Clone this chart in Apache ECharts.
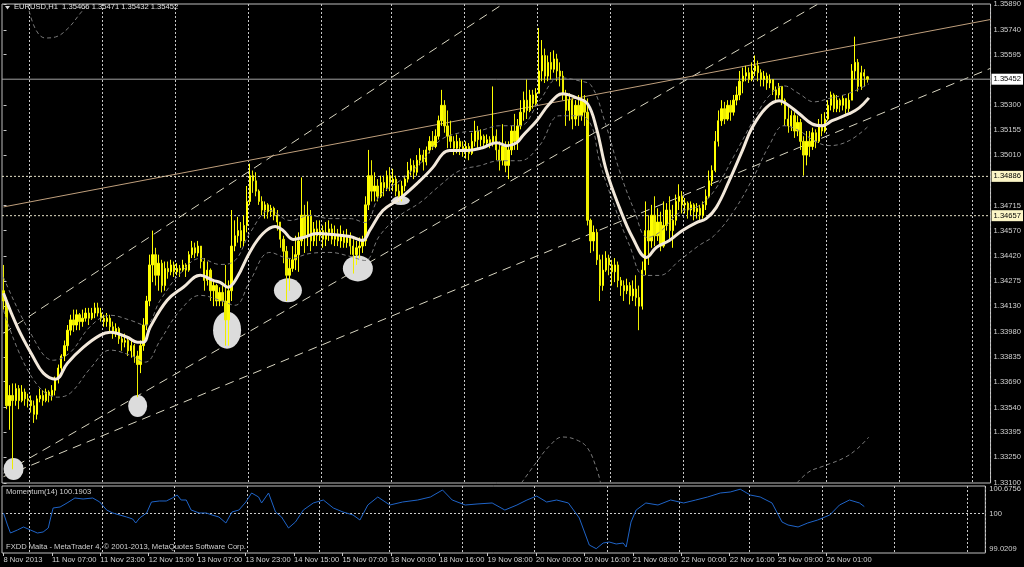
<!DOCTYPE html>
<html><head><meta charset="utf-8">
<script src="https://cdn.jsdelivr.net/npm/echarts@6/dist/echarts.min.js"></script>
<style>html,body{margin:0;padding:0;background:#000}#c{width:1024px;height:567px}</style>
</head><body><div id="c"></div>
<script>
// ---- time axis: trading sessions (day label, first hour, last hour) ----
const sessions = [['8 Nov',14,22],['11 Nov',0,23],['12 Nov',0,23],['13 Nov',0,23],['14 Nov',0,23],['15 Nov',0,22],
  ['18 Nov',0,23],['19 Nov',0,23],['20 Nov',0,23],['21 Nov',0,23],['22 Nov',0,22],['25 Nov',0,23],['26 Nov',0,23],['27 Nov',0,23],['28 Nov',0,5]];
const firstLabel = '8 Nov 2013';

// ---- EURUSD H1 candles, values in pips above 1.3000: [open, close, low, high] ----
const candlesPips = [
[422,416,411,437],[416,355,353,418],[355,361,341,367],[361,358,318,368],[358,365,355,368],[365,358,353,367],[358,363,357,367],[363,359,355,365],[359,358,354,362],
[358,355,351,361],[355,350,345,358],[350,359,347,361],[359,361,357,365],[361,358,355,364],[358,363,357,365],[363,361,357,364],[361,364,358,367],[364,371,361,372],[371,377,368,379],
[377,384,375,385],[384,390,381,393],[390,399,387,402],[399,405,396,408],[405,402,398,411],[402,408,399,411],[408,404,399,409],[404,406,401,411],[406,409,404,412],[409,406,402,412],
[406,409,405,412],[409,412,406,415],[412,409,407,415],[409,406,404,412],[406,404,401,408],[404,406,401,409],[406,401,398,408],[401,398,394,404],[398,400,395,403],[400,394,391,401],
[394,392,387,396],[392,393,389,397],[393,387,384,394],[387,390,383,393],[390,384,380,391],[384,379,360,387],[379,390,374,393],[390,402,387,406],[402,416,399,419],[416,437,413,443],
[437,443,427,457],[443,431,425,447],[431,438,422,443],[438,425,421,440],[425,435,422,439],[435,433,429,439],[433,437,431,440],[437,433,430,439],[433,435,431,438],[435,434,430,437],
[434,437,433,440],[437,434,430,438],[434,443,433,445],[443,447,441,451],[447,444,441,450],[444,448,442,451],[448,439,435,448],[439,428,422,441],[428,434,425,439],[434,422,416,435],
[422,425,413,428],[425,416,413,426],[416,421,413,424],[421,416,413,425],[416,405,390,437],[405,422,390,428],[422,448,416,469],[448,454,445,463],[454,457,450,465],[457,451,447,462],
[451,460,448,466],[460,474,456,483],[474,489,472,496],[489,486,479,492],[486,480,477,491],[480,474,472,481],[474,469,466,477],[469,472,464,474],[472,468,464,473],[468,470,465,472],
[470,466,463,471],[466,462,457,469],[462,452,447,462],[452,445,438,454],[445,431,416,448],[431,435,422,441],[435,440,433,448],[440,443,434,454],[443,451,433,456],[451,466,448,488],
[466,454,444,472],[454,466,448,474],[466,451,445,469],[451,458,448,462],[458,454,448,463],[454,457,451,463],[457,452,447,460],[452,456,448,462],[456,458,451,463],[458,452,449,461],
[452,455,448,460],[455,451,448,458],[451,454,447,460],[454,450,447,457],[450,453,447,458],[453,448,443,456],[448,443,432,452],[443,447,437,451],[447,448,441,453],[448,451,444,454],
[451,472,448,477],[472,489,469,504],[489,480,474,498],[480,483,474,491],[483,477,474,487],[477,485,476,489],[485,482,477,489],[482,489,480,492],[489,485,480,494],[485,487,480,493],
[487,480,477,489],[480,477,474,484],[477,483,474,486],[483,487,480,489],[487,492,485,497],[492,495,489,499],[495,491,487,498],[491,498,489,501],[498,501,495,505],[501,497,492,504],
[497,504,495,506],[504,509,502,512],[509,506,504,515],[506,512,505,516],[512,521,510,524],[521,530,518,539],[530,518,514,533],[518,512,505,527],[512,509,505,521],[509,505,501,512],
[505,509,502,513],[509,506,501,511],[506,504,500,509],[504,506,499,509],[506,502,498,508],[502,509,501,514],[509,515,506,521],[515,510,505,518],[510,512,506,516],[512,508,505,513],
[508,510,506,513],[510,508,505,512],[508,512,506,541],[512,504,498,516],[504,498,492,509],[498,506,495,519],[506,495,491,509],[495,504,487,509],[504,515,501,518],[515,509,504,525],
[509,518,504,522],[518,526,516,533],[526,533,521,538],[533,527,522,545],[527,536,526,539],[536,531,528,539],[531,537,530,540],[537,550,537,575],[550,559,544,568],[559,547,543,563],
[547,555,544,559],[555,551,545,561],[551,557,549,562],[557,550,544,560],[550,547,541,555],[547,536,533,550],[536,527,518,539],[527,533,521,537],[533,522,516,534],[522,530,518,533],
[530,524,518,536],[524,533,521,545],[533,526,518,536],[526,463,460,534],[463,451,444,464],[451,456,445,460],[456,440,437,458],[440,425,416,443],[425,434,422,443],[434,441,433,445],
[441,437,431,443],[437,433,425,440],[433,437,427,441],[437,428,424,439],[428,425,419,430],[425,422,416,428],[422,425,420,429],[425,419,414,427],[419,423,416,428],[423,418,413,431],
[418,413,399,425],[413,434,411,439],[434,457,431,474],[457,451,437,466],[451,466,447,472],[466,454,448,477],[454,462,451,470],[462,448,445,468],[448,460,447,474],[460,469,457,473],
[469,457,451,477],[457,463,447,472],[463,474,460,478],[474,477,469,484],[477,472,467,480],[472,473,467,476],[473,469,464,474],[469,472,466,474],[472,468,463,473],[468,470,464,473],
[470,466,463,472],[466,472,464,474],[472,477,469,481],[477,486,476,492],[486,492,483,495],[492,509,491,515],[509,521,506,527],[521,528,518,533],[528,522,519,532],[522,530,521,533],
[530,526,521,533],[526,533,524,536],[533,536,530,541],[536,544,533,550],[544,547,537,552],[547,549,544,553],[549,545,543,552],[545,550,544,555],[550,553,547,559],[553,549,544,556],
[549,545,541,551],[545,547,541,550],[547,543,539,549],[543,545,540,548],[545,539,536,545],[539,536,533,541],[536,541,534,543],[541,533,530,541],[533,522,518,534],[522,518,514,530],
[518,524,515,527],[524,515,511,526],[515,520,512,524],[520,509,504,522],[509,501,489,512],[501,509,495,515],[509,506,500,515],[506,514,504,517],[514,509,505,516],[509,518,508,522],
[518,515,512,525],[515,522,514,526],[522,530,521,533],[530,536,527,538],[536,528,526,537],[528,533,526,536],[533,530,526,534],[530,534,527,536],[534,528,525,534],[528,533,526,537],
[533,550,533,554],[550,555,545,570],[555,541,538,557],[541,549,539,553],[549,547,541,551],[546.6,545.2,543.2,547.1]
];

// ---- moving average and its bands, read as [bar index, pips] ----
const maPoints = [[0,420.5],[4.6,400.7],[9.8,383.3],[13.1,374],[17.1,370.5],[21,379.8],[26.3,389.1],[31.8,396.1],[35.1,397.8],[40.7,394.9],[44,392],[46,392],[48.2,400.7],[53.8,416.4],
[59.1,424],[64.7,431],[68.9,428],[71.2,426.9],[73.8,424],[76.8,429.8],[81.1,444.9],[85.3,455.3],[89.3,459.4],[91.9,457.1],[95.2,451.9],[98.5,453],[103,455.3],[108.3,454.7],[113.9,453.6],
[118.1,451.3],[120.4,457.1],[124.7,468.7],[130.3,475.7],[135.9,484.4],[141.1,493.7],[144.4,501.8],[146.7,503.6],[152.3,503.6],[157.5,505.3],[162.1,508.2],[165.4,506.5],[168.7,508.2],
[170.7,512.3],[175.3,521],[179.5,530.9],[183.8,536.7],[188.4,534.3],[192,530.9],[194.9,516.9],[198.2,491.9],[202.5,470.4],[206.8,453],[211.4,441.4],[214.6,447.2],[218.9,451.3],
[223.2,457.1],[227.8,461.7],[231,464],[234.3,470.4],[238.6,486.1],[242.9,503.6],[246.1,516.9],[250.7,528.5],[255,532.6],[257.3,530.9],[261.6,525.1],[265.8,519.2],[269.1,518.1],
[272.4,521],[278,525.1],[281.3,528.5],[284.5,534.3]];
const upperBand = [[0,429.8],[8.9,397.2],[16.4,381.5],[22,386.2],[28.6,401.3],[35.1,407.7],[41.7,404.8],[46.6,401.9],[51.5,416.4],[58.1,432.1],[64.7,440.8],[71.2,437.3],[76.1,439.6],
[81.1,455.9],[87.6,468.7],[94.2,462.9],[100.8,465.8],[107.3,464],[113.9,464],[118.8,461.7],[123.7,477.4],[130.3,486.1],[136.9,496],[143.4,509.4],[150,514],[156.5,515.2],[163.1,518.1],
[169.7,518.1],[176.2,532.6],[182.8,546],[189.4,544.2],[193.3,541.3],[197.6,521],[202.5,491.9],[207.4,468.7],[211.7,453],[215.6,455.9],[222.2,467.5],[228.7,471.6],[233.7,480.3],
[240.2,500.6],[246.8,522.1],[251.7,535.5],[256.6,541.3],[261.6,536.7],[266.5,532],[271.4,534],[278,537],[284.5,542.5]];
const lowerBand = [[0,410.6],[8.9,372.8],[17.7,360],[22,362.4],[28.6,376.9],[35.1,387.4],[41.7,384.4],[46.6,380.4],[51.5,393.1],[58.1,410.6],[64.7,419.3],[71.2,416.4],[76.1,413.5],
[81.1,428],[87.6,444.3],[94.2,440.8],[100.8,443.7],[107.3,444.3],[113.9,442],[118.8,439.6],[123.7,454.2],[130.3,465.8],[136.9,473.3],[143.4,483.2],[150,492],[156.5,494.8],[163.1,497.7],
[169.7,497.7],[176.2,506.5],[182.8,523.9],[189.4,523.9],[193.3,518.1],[195.9,497.7],[200.8,471.6],[205.8,448.4],[210.7,430.9],[215.6,430.9],[222.2,439.6],[228.7,448.4],[233.7,454.2],
[240.2,468.7],[246.8,489],[251.7,506.5],[256.6,518.1],[261.6,515.2],[266.5,509.4],[271.4,506.5],[278,509.4],[284.5,518.1]];
const outerTop = [[7.9,589],[10.5,574.4],[13.8,569.2],[17.1,569.8],[21.3,575],[25.3,583.7],[27.9,589]];
const outerLowA = [[170.3,310.1],[175.3,322.3],[179.5,331.6],[183.8,336.8],[188.4,335.1],[192,330.4],[194.9,318.8],[196.3,310.1]];
const outerLowB = [[260.9,310.1],[264.8,316.5],[269.8,320],[276.3,324.6],[280.6,329.8],[284.5,336.8]];

// ---- drawn objects: trend lines [index, pips], level lines (price), ellipses [index, pips, w, h] ----
const channelLines = [[[0,397.2],[164.1,588.9]], [[0,315.8],[267.8,589]], [[0,313.7],[324.6,551.6]]];
const resistanceLine = [[0,470.8],[324.6,580]];
const currentPrice = 1.35452;
const levelLines = [1.34886, 1.34657];
const ellipses = [[3.3,318.2,20,22],[44.1,354.8,19,22],[73.5,399,28,37],[93.5,422.2,28,24],[116.5,435,30,26],[130.6,474.5,18,9]];

// ---- Momentum(14) [index, value] ----
const momentum = [[0,100.014],[1.3,99.683],[2.3,99.462],[4.6,99.545],[6.6,99.628],[8.9,99.545],[11.2,99.462],[13.1,99.49],[14.8,99.6],[15.4,99.821],[16.4,100.152],[18.7,100.179],
[21,100.29],[23.6,100.427],[26.3,100.4],[29.5,100.427],[31.8,100.317],[34.1,100.096],[36.1,100.014],[40.7,99.903],[42.7,99.848],[43.7,99.738],[45,99.876],[47.3,100.014],[48.9,100.317],
[51.5,100.345],[53.8,100.345],[55.8,100.427],[57.4,100.51],[58.7,100.372],[60.4,100.372],[62,100.096],[64.7,100.014],[67,100.014],[68.9,99.959],[71.2,99.903],[73.5,99.738],
[75.5,100.041],[77.8,100.096],[80.1,100.317],[82,100.565],[84.3,100.455],[85.3,100.29],[87.6,100.565],[89.9,100.041],[91.9,99.903],[94.2,99.6],[96.5,99.766],[99.1,100.096],
[102.4,100.29],[105.7,100.372],[109,100.152],[112.2,100.041],[115.5,99.959],[117.8,99.821],[120.4,100.234],[123.7,100.455],[127.7,100.234],[131.9,100.317],[136.9,100.372],
[141.1,100.455],[145.1,100.648],[148.3,100.372],[152.6,100.234],[156.5,100.262],[161.5,100.29],[165.7,100.096],[169.7,100.234],[173,100.372],[176.2,100.482],[179.5,100.317],
[182.8,100.372],[186.7,100.29],[190.3,99.876],[193.6,99.131],[195.9,99.03],[198.2,99.186],[200.2,99.214],[202.5,99.159],[204.8,99.186],[205.8,99.076],[207.4,99.765],[209.1,100.096],
[212.3,100.29],[216.3,100.234],[220.5,100.372],[224.8,100.29],[228.8,100.372],[232.7,100.455],[236.9,100.565],[240.2,100.593],[243.5,100.67],[246.8,100.51],[250.1,100.455],
[254,100.29],[257.3,99.766],[259.3,99.683],[262.6,99.628],[265.8,99.738],[269.1,99.821],[273.1,99.959],[276.3,100.234],[279.6,100.372],[282.9,100.29],[284.5,100.19]];

// ---- axis tick labels ----
const priceTicks = [1.3589,1.3574,1.35595,1.353,1.35155,1.3501,1.34715,1.3457,1.3442,1.34275,1.3413,1.3398,1.33835,1.3369,1.3354,1.33395,1.3325,1.331];
const momTicks = [99.0209, 100, 100.6756];

// ---------------------------------------------------------------
const P = v => 1.3 + v / 10000;            // pips -> price
const toXY = arr => arr.map(([i, v]) => [i, P(v)]);
const cats = [];
sessions.forEach(([d, h0, h1]) => { for (let h = h0; h <= h1; h++) cats.push(d + ' ' + String(h).padStart(2, '0') + ':00'); });
const N = cats.length, lastBar = candlesPips.length - 1;
const isMidnight = (i, v) => /00:00$/.test(cats[i]);
const isLabel = (i) => i % 16 === 0 && i <= lastBar;
const FONT = 'Liberation Sans', TXT = '#d2d2d2', FS = 7.6;
const gridLine = { show: true, interval: isMidnight, lineStyle: { color: '#c8c8c8', type: [2, 2], width: 1 } };

const chart = echarts.init(document.getElementById('c'), null, { renderer: 'canvas' });
const dashed = (data, color, dash, width, z, smooth) => ({
  type: 'line', xAxisIndex: 1, yAxisIndex: 0, data, symbol: 'none', smooth: smooth || false, z,
  lineStyle: { color, width, type: dash }, silent: true, clip: true
});
// horizontal level line across the whole chart, price box at its right end
const level = (p, color, dash, bg) => {
  const s = dashed([[-0.5, p], [N - 0.5, p]], color, dash, 1, 2);
  s.clip = false;
  s.endLabel = { show: true, distance: 1, formatter: p.toFixed(5), color: '#000', backgroundColor: bg,
    padding: [2, 2, 1, 2], fontSize: FS, fontFamily: FONT };
  return s;
};
const series = [];
channelLines.forEach(l => series.push(dashed(toXY(l), '#d9d6c2', [9, 6], 1, 1)));
series.push(dashed(toXY(resistanceLine), '#bf9f7c', 'solid', 1, 1));
series.push(level(currentPrice, '#a3a3a3', 'solid', '#ffffff'));
levelLines.forEach(p => series.push(level(p, '#e6e2c8', [2, 2], '#fbf5c6')));
series.push({
  type: 'scatter', xAxisIndex: 1, yAxisIndex: 0, z: 1, silent: true,
  data: ellipses.map(([i, v, w, h]) => ({ value: [i, P(v)], symbolSize: [w, h] })),
  symbol: 'circle', itemStyle: { color: '#dcdcdc', opacity: 1 }
});
series.push({
  type: 'candlestick', xAxisIndex: 0, yAxisIndex: 0, z: 3, silent: true,
  data: candlesPips.map(r => r.map(P)), barWidth: 1.8,
  itemStyle: { color: '#ffff00', color0: '#eded00', borderColor: '#ffff00', borderColor0: '#eded00', borderWidth: 1 }
});
series.push(dashed(toXY(upperBand), '#7a7a7a', [4, 3], 1, 4, 0.4));
series.push(dashed(toXY(lowerBand), '#7a7a7a', [4, 3], 1, 4, 0.4));
[outerTop, outerLowA, outerLowB].forEach(s => series.push(dashed(toXY(s), '#7a7a7a', [4, 3], 1, 4, 0.4)));
series.push(dashed(toXY(maPoints), '#f2e8da', 'solid', 3, 5, 0.4));
series.push({
  type: 'line', xAxisIndex: 3, yAxisIndex: 1, data: momentum, symbol: 'none', z: 3, silent: true,
  lineStyle: { color: '#1f64c8', width: 1 }
});
series.push({
  type: 'line', xAxisIndex: 3, yAxisIndex: 1, data: [[-0.5, 100], [N - 0.5, 100]], symbol: 'none', z: 2, silent: true,
  lineStyle: { color: '#cfcfcf', type: [2, 2], width: 1 }
});

chart.setOption({
  backgroundColor: '#000', animation: false,
  textStyle: { fontFamily: FONT },
  grid: [
    { left: 2, top: 3, width: 990, height: 480, show: true, borderColor: '#bdbdbd', borderWidth: 1, backgroundColor: 'transparent' },
    { left: 2, top: 486, width: 990, height: 67, show: true, borderColor: '#bdbdbd', borderWidth: 1, backgroundColor: 'transparent' }
  ],
  xAxis: [
    { type: 'category', gridIndex: 0, data: cats, boundaryGap: true, axisLine: { show: false }, axisTick: { show: false }, axisLabel: { show: false }, splitLine: gridLine },
    { type: 'value', gridIndex: 0, min: -0.5, max: N - 0.5, show: false },
    { type: 'category', gridIndex: 1, data: cats, boundaryGap: true, position: 'bottom',
      axisLine: { show: false },
      axisTick: { show: true, interval: isLabel, alignWithLabel: true, length: 3, lineStyle: { color: '#c8c8c8' } },
      axisLabel: { show: true, interval: isLabel, formatter: (v, i) => i === 0 ? firstLabel : v, align: 'left', margin: 3,
        color: TXT, fontSize: FS, fontFamily: FONT },
      splitLine: gridLine },
    { type: 'value', gridIndex: 1, min: -0.5, max: N - 0.5, show: false }
  ],
  yAxis: [
    { type: 'value', gridIndex: 0, position: 'right', min: 1.331, max: 1.3589,
      axisLine: { show: false }, splitLine: { show: false },
      axisTick: { show: true, length: 3, customValues: priceTicks, lineStyle: { color: '#c8c8c8' } },
      axisLabel: { customValues: priceTicks, formatter: v => v.toFixed(5), color: TXT, fontSize: FS, fontFamily: FONT, margin: 3 } },
    { type: 'value', gridIndex: 1, position: 'right', min: 98.9106, max: 100.7583,
      axisLine: { show: false }, splitLine: { show: false },
      axisTick: { show: false },
      axisLabel: { customValues: momTicks, formatter: v => String(v), color: TXT, fontSize: FS, fontFamily: FONT, margin: 4 } }
  ],
  graphic: [
    { type: 'polygon', shape: { points: [[5, 6], [10, 6], [7.5, 9.5]] }, style: { fill: '#dcdcdc' }, z: 10 },
    { type: 'text', left: 14, top: 3, z: 10, style: { text: 'EURUSD,H1  1.35466 1.35471 1.35432 1.35452', fill: '#e0e0e0', font: '7.6px "Liberation Sans"' } },
    { type: 'text', left: 6, top: 488, z: 10, style: { text: 'Momentum(14) 100.1903', fill: '#d0d0d0', font: '7.6px "Liberation Sans"' } },
    { type: 'text', left: 6, top: 543, z: 10, style: { text: 'FXDD Malta - MetaTrader 4, © 2001-2013, MetaQuotes Software Corp.', fill: '#d0d0d0', font: '7.6px "Liberation Sans"' } }
  ],
  series
});
</script></body></html>
